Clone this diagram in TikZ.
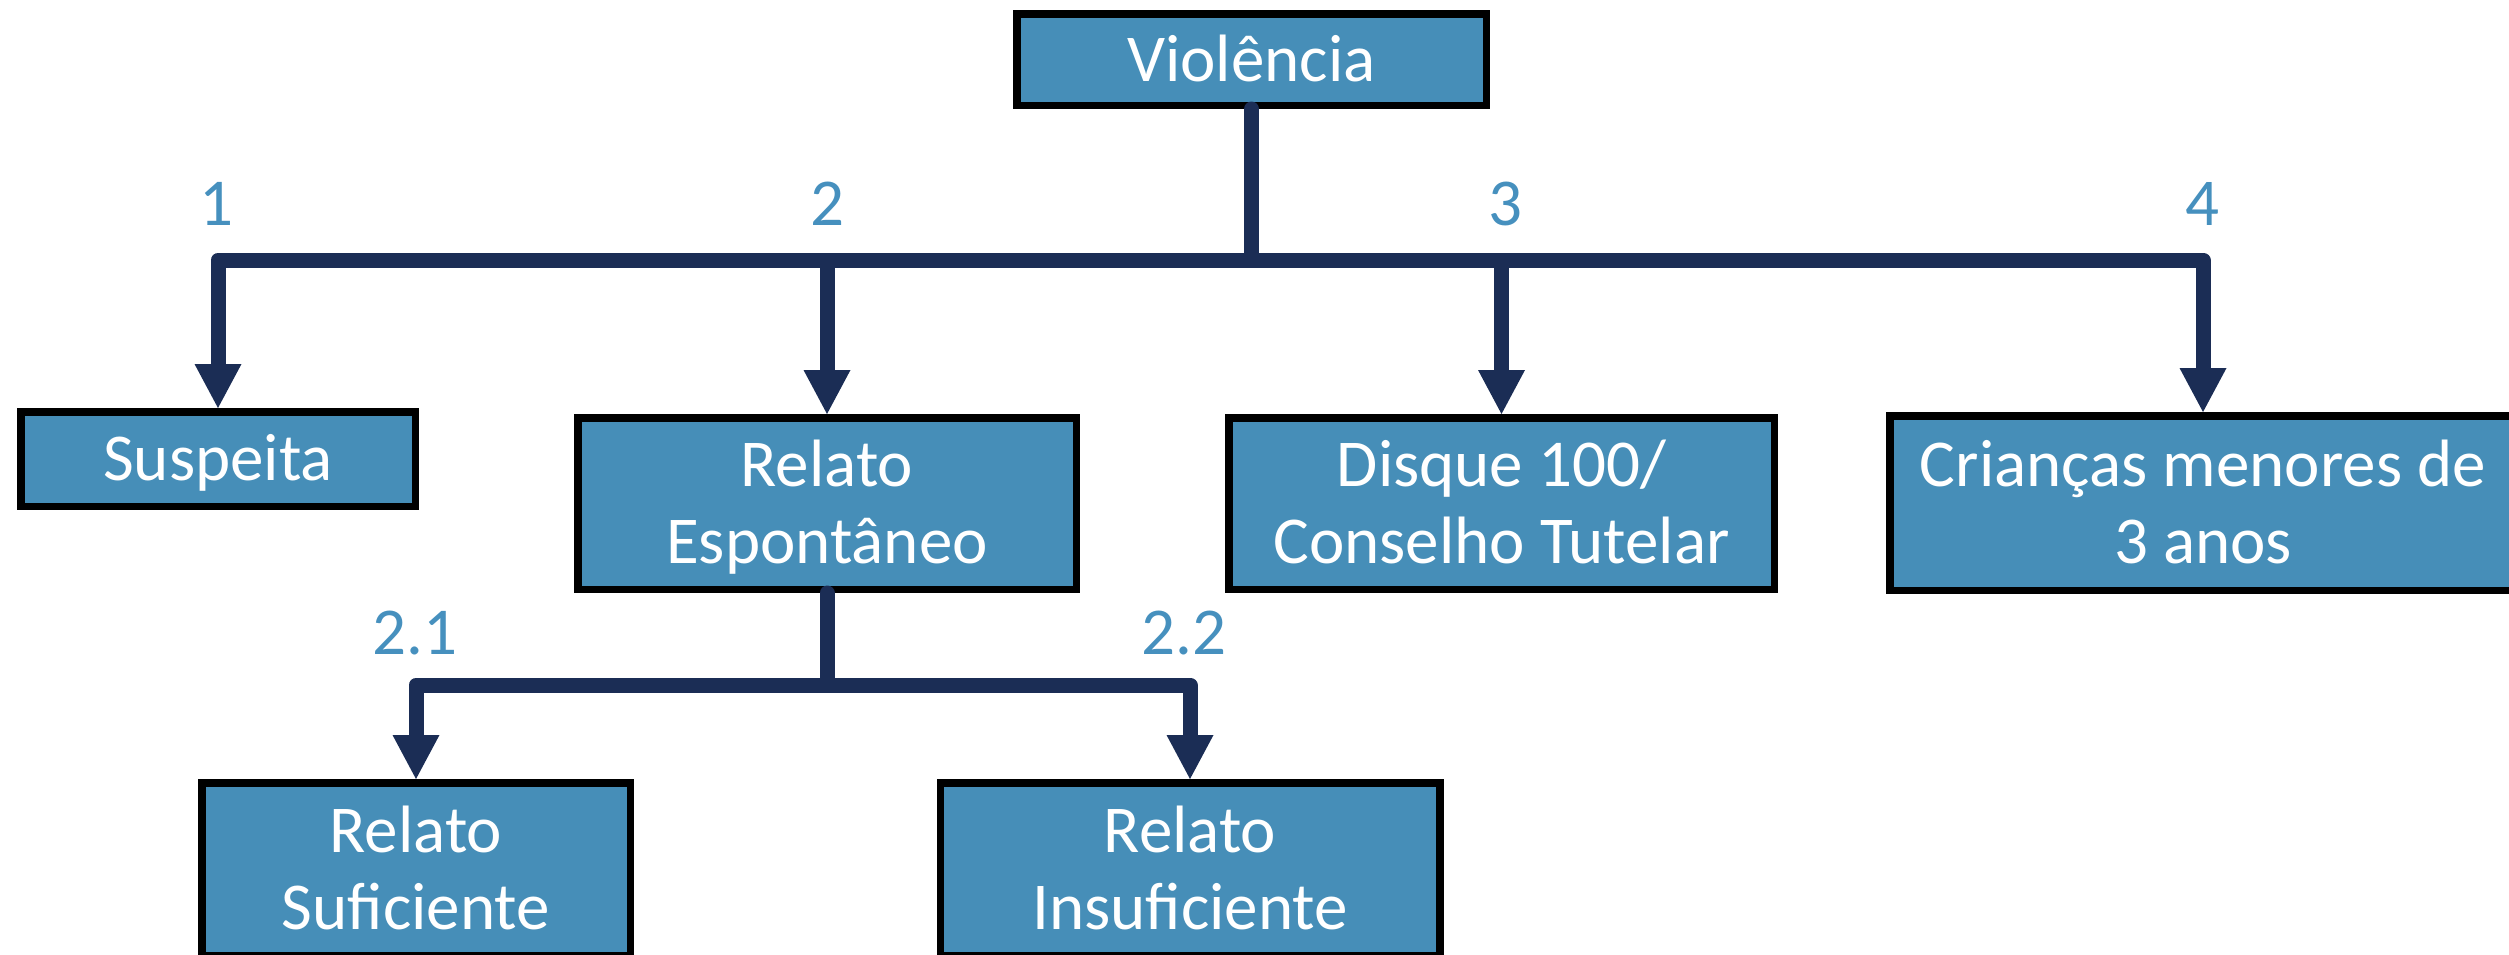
\documentclass[tikz,border=0pt]{standalone}
\usepackage{fontspec}
\setmainfont{Carlito}
\usetikzlibrary{arrows.meta}
\definecolor{boxblue}{HTML}{468EB8}
\definecolor{navy}{HTML}{1B2D55}
\definecolor{lblblue}{HTML}{4690BE}
\newcommand{\boxfont}{\fontsize{33.5}{38.5}\selectfont}
\tikzset{
  box/.style={draw=black, line width=3.75pt, fill=boxblue, text=white, font=\boxfont,
    inner sep=0pt, align=center, text depth=0pt},
  onel/.style={text height=21.5pt},
  twol/.style={text height=60pt},
  conn/.style={draw=navy, line width=7.5pt, line join=round, line cap=round},
  arr/.style={-{Triangle[width=23.5pt,length=22pt,line width=0pt]}},
  lbl/.style={font=\boxfont, text=lblblue, anchor=base, inner sep=0pt}
}
\begin{document}
\begin{tikzpicture}[x=0.5pt,y=-0.5pt]
\useasboundingbox (0,0) rectangle (2509,954);
\node[box,onel,minimum width=234.75pt,minimum height=45.75pt] (viol) at (1251.5,59.5) {Violência};
\node[box,onel,minimum width=197.25pt,minimum height=47.25pt] (susp) at (218,459) {Suspeita};
\node[box,twol,minimum width=249.25pt,minimum height=85.75pt] (esp) at (827,503.5) {Relato\\Espontâneo};
\node[box,twol,minimum width=272.75pt,minimum height=85.75pt] (disq) at (1501.5,503.5) {Disque 100/\\Conselho Tutelar};
\node[box,twol,minimum width=313.25pt,minimum height=87.25pt] (cria) at (2203,503) {Crianças menores de\\3 anos};
\node[box,twol,minimum width=214.25pt,minimum height=86.25pt] (suf) at (416,869) {Relato\\Suficiente};
\node[box,twol,minimum width=249.75pt,minimum height=86.25pt] (insuf) at (1190,869) {Relato\\Insuficiente};

\coordinate (bar) at (1252,260);
\coordinate (subbar) at (827,685);
\coordinate (j) at (viol.south |- bar);
\coordinate (k) at (esp.south |- subbar);

\draw[conn] (viol.south) -- (j);
\draw[conn,arr] (j) -| (susp.north);
\draw[conn,arr] (j) -| (esp.north);
\draw[conn,arr] (j) -| (disq.north);
\draw[conn,arr] (j) -| (cria.north);
\draw[conn] (esp.south) -- (k);
\draw[conn,arr] (k) -| (suf.north);
\draw[conn,arr] (k) -| (insuf.north);

\node[lbl] (l1) at (216,225) {1};
\node[lbl] (l2) at (827,225) {2};
\node[lbl] (l3) at (1505,225) {3};
\node[lbl] (l4) at (2202,225) {4};
\node[lbl] (l21) at (415,654) {2.1};
\node[lbl] (l22) at (1184,654) {2.2};
\end{tikzpicture}
\end{document}
